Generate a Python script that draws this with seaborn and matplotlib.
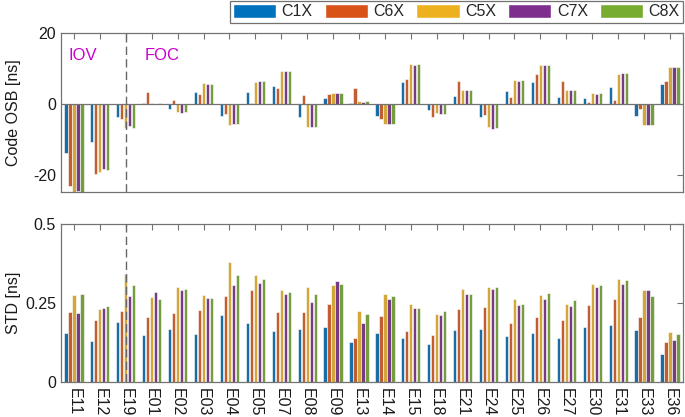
import matplotlib
matplotlib.use("Agg")
import matplotlib.pyplot as plt
import seaborn as sns
import pandas as pd
from matplotlib.patches import Patch

sats = ['E11','E12','E19','E01','E02','E03','E04','E05','E07','E08','E09','E13',
        'E14','E15','E18','E21','E24','E25','E26','E27','E30','E31','E33','E36']
signals = ['C1X', 'C6X', 'C5X', 'C7X', 'C8X']

osb_c1x = [-13.7, -10.7, -3.7, 0.2, -1.3, 3.3, -3.3, 3.5, 5.2, -3.7, 1.7, 0.4, -3.2, 6.1, -1.6, 2.2, -3.7, 3.7, 6.1, 2.1, 1.7, 4.7, -3.3, 5.7]
osb_c6x = [-23.0, -19.7, -4.2, 3.4, 1.1, 2.9, -2.8, 0.4, 4.5, 2.6, 2.9, 4.5, -4.1, 7.1, -3.6, 6.4, -3.0, 1.9, 8.6, 6.5, 0.5, 1.2, -1.4, 6.4]
osb_c5x = [-25.0, -19.1, -6.7, 0.3, -2.2, 6.0, -5.8, 6.3, 9.4, -6.5, 3.2, 0.8, -5.6, 11.2, -2.6, 4.1, -6.5, 6.8, 11.0, 3.9, 3.1, 8.6, -5.8, 10.3]
osb_c7x = [-24.5, -18.3, -6.2, 0.1, -2.6, 5.8, -5.5, 6.4, 9.3, -6.5, 3.2, 0.7, -5.7, 11.1, -2.8, 4.0, -6.9, 6.6, 11.0, 3.9, 3.0, 8.7, -5.9, 10.3]
osb_c8x = [-25.0, -18.6, -6.7, 0.2, -2.3, 5.8, -5.5, 6.4, 9.3, -6.5, 3.2, 0.9, -5.7, 11.2, -2.8, 4.0, -6.7, 6.7, 11.0, 3.9, 3.1, 8.7, -5.9, 10.3]

std_c1x = [0.155,0.129,0.191,0.149,0.168,0.153,0.213,0.188,0.162,0.167,0.173,0.126,0.156,0.138,0.121,0.163,0.167,0.146,0.155,0.138,0.175,0.181,0.163,0.089]
std_c6x = [0.222,0.196,0.224,0.207,0.217,0.227,0.271,0.292,0.222,0.222,0.246,0.140,0.208,0.161,0.148,0.232,0.236,0.187,0.206,0.195,0.243,0.264,0.206,0.127]
std_c5x = [0.276,0.232,0.342,0.268,0.300,0.275,0.381,0.337,0.291,0.299,0.308,0.225,0.279,0.246,0.215,0.293,0.299,0.261,0.276,0.247,0.311,0.325,0.292,0.159]
std_c7x = [0.218,0.234,0.271,0.284,0.291,0.267,0.307,0.312,0.277,0.253,0.318,0.188,0.261,0.233,0.212,0.278,0.294,0.245,0.264,0.241,0.299,0.309,0.292,0.132]
std_c8x = [0.278,0.240,0.307,0.263,0.294,0.267,0.340,0.327,0.286,0.277,0.311,0.215,0.271,0.233,0.223,0.279,0.301,0.247,0.283,0.258,0.307,0.323,0.271,0.152]

colors = ['#0072BD', '#D95319', '#EDB120', '#7E2F8E', '#77AC30']

osb = [osb_c1x, osb_c6x, osb_c5x, osb_c7x, osb_c8x]
std = [std_c1x, std_c6x, std_c5x, std_c7x, std_c8x]
rows = []
for s, o, d in zip(signals, osb, std):
    for sat, ov, dv in zip(sats, o, d):
        rows.append({'sat': sat, 'signal': s, 'osb': ov, 'std': dv})
df = pd.DataFrame(rows)

sns.set_style('white')
plt.rcParams['font.family'] = ['Liberation Sans', 'DejaVu Sans']
plt.rcParams['font.size'] = 11.5

fig = plt.figure(figsize=(6.85, 4.17), dpi=100)
ax1 = fig.add_axes([0.089, 0.540, 0.908, 0.381])
ax2 = fig.add_axes([0.089, 0.084, 0.908, 0.379])

spine_col = '0.45'
for ax, col, ylim, yt in [(ax1, 'osb', (-24.6, 20), [-20, 0, 20]),
                          (ax2, 'std', (0, 0.5), [0, 0.25, 0.5])]:
    sns.barplot(data=df, x='sat', y=col, hue='signal', palette=colors,
                width=0.77, gap=0.18, edgecolor='white', linewidth=0.4,
                ax=ax, legend=False, errorbar=None, order=sats, hue_order=signals)
    ax.set_xlim(-0.5, len(sats) - 0.5)
    ax.set_ylim(*ylim)
    ax.set_yticks(yt)
    ax.set_yticklabels([f'{v:g}' for v in yt])
    ax.set_xlabel('')
    ax.tick_params(direction='in', top=True, right=True, length=4,
                   width=0.8, color=spine_col, labelsize=11.5, labelcolor='#1a1a1a')
    for sp in ax.spines.values():
        sp.set_color(spine_col)
        sp.set_linewidth(0.9)
    ax.axvline(2, color='0.4', linestyle=(0, (6, 3)), linewidth=1.0, zorder=5)

ax1.axhline(0, color='0.45', linewidth=0.9, zorder=4)
ax1.set_xticklabels([])
ax1.set_ylabel('Code OSB [ns]', fontsize=11.5, color='#1a1a1a')
ax2.set_ylabel('STD [ns]', fontsize=11.5, color='#1a1a1a')
ax2.set_xticks(range(len(sats)))
ax2.set_xticklabels(sats, rotation=-90, fontsize=11.5)
ax2.tick_params(axis='x', pad=4)
ax1.yaxis.set_label_coords(-0.064, 0.5)
ax2.yaxis.set_label_coords(-0.064, 0.5)

ax1.text(0.35, 13.8, 'IOV', color='#CC00CC', fontsize=12, ha='center', va='center')
ax1.text(3.4, 13.8, 'FOC', color='#CC00CC', fontsize=12, ha='center', va='center')

handles = [Patch(facecolor=c, edgecolor='white', label=s) for c, s in zip(colors, signals)]
leg = fig.legend(handles=handles, loc='upper right', bbox_to_anchor=(0.998, 1.0),
                 ncol=5, frameon=True, fancybox=False, fontsize=11.5,
                 handlelength=2.7, handleheight=0.95, handletextpad=0.35,
                 columnspacing=0.75, borderpad=0.2, borderaxespad=0.05)
leg.get_frame().set_edgecolor('0.3')
leg.get_frame().set_linewidth(0.9)

fig.savefig('out.png', dpi=100)
